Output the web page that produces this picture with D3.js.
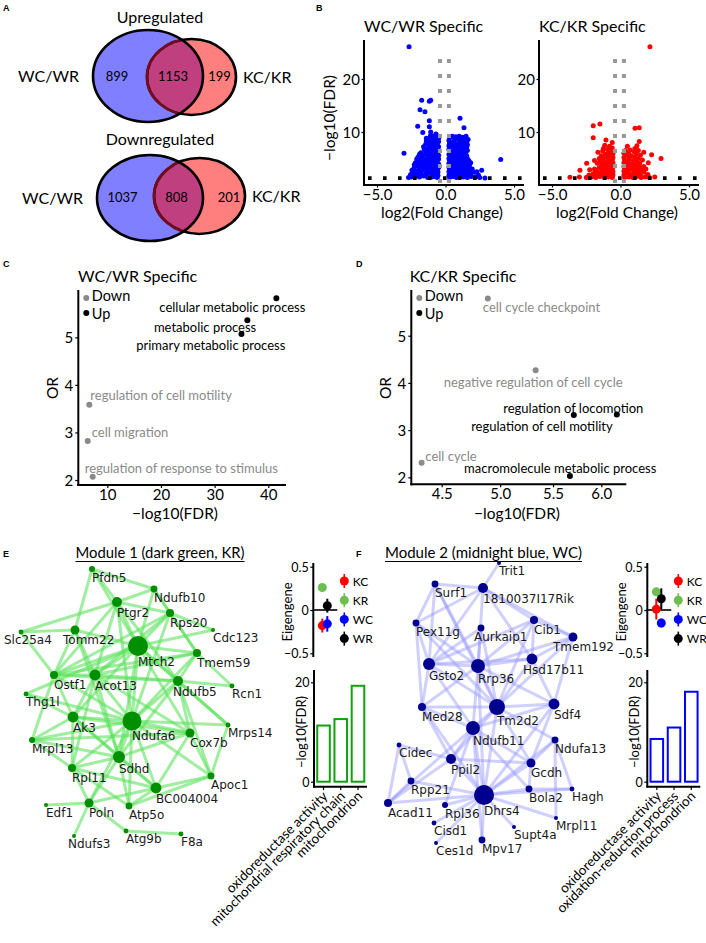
<!DOCTYPE html>
<html><head><meta charset="utf-8">
<script src="https://cdn.jsdelivr.net/npm/d3@7"></script>
<style>
html,body{margin:0;padding:0;background:#fff;}
svg{display:block;}
</style></head>
<body>
<svg id="fig" width="706" height="943" xmlns="http://www.w3.org/2000/svg"></svg>
<script>
// ======================= DATA =======================
// Panel A
const vennSetNames = ["WC/WR", "KC/KR"];
const vennTitles = ["Upregulated", "Downregulated"];
const upCounts = [899, 1153, 199];
const downCounts = [1037, 808, 201];

// Panel B  ([log2 fold change, -log10 FDR])
const volcanoTitles = ["WC/WR Specific", "KC/KR Specific"];
const volcanoXTicks = [-5, 0, 5];
const volcanoYTicks = [10, 20];
const fcCutoffs = [-0.4, 0.25];
const fdrCutoff = 1.3;
const wcSpecific = [
[-0.6,1.4],[-0.8,1.6],[-1.0,1.5],[-1.3,1.4],[-1.6,1.7],[-1.9,1.5],[-2.2,1.6],[-2.5,1.5],[-2.7,1.4],[-0.7,2.1],[-1.1,2.2],[-1.45,2.0],[-1.8,2.3],[-2.1,2.1],[-2.4,2.4],[-2.55,2.0],
[-0.6,2.8],[-0.9,3.0],[-1.25,2.7],[-1.6,3.1],[-1.95,2.9],[-2.3,3.2],[-0.75,3.6],[-1.1,3.8],[-1.4,3.5],[-1.75,3.9],[-2.05,3.6],[-2.28,3.8],
[-0.6,4.3],[-0.9,4.6],[-1.2,4.2],[-1.5,4.7],[-1.85,4.4],[-2.1,4.9],[-0.7,5.2],[-1.05,5.4],[-1.35,5.1],[-1.7,5.5],[-2.0,5.3],
[-0.6,6.0],[-0.85,6.3],[-1.15,6.0],[-1.45,6.4],[-1.8,6.1],[-0.7,6.9],[-1.0,7.1],[-1.3,6.8],[-1.6,7.2],
[-0.6,7.7],[-0.85,8.0],[-1.1,7.8],[-1.4,8.3],[-0.7,8.6],[-0.95,8.9],[-1.25,8.7],[-0.6,9.3],[-0.9,9.2],[-1.4,8.8],[-1.66,9.9],[-1.08,10.0],
[-0.55,1.8],[-0.95,1.9],[-1.35,1.7],[-1.75,1.9],[-2.05,1.8],[-2.35,1.9],
[-0.55,2.45],[-0.95,2.5],[-1.4,2.45],[-1.75,2.6],[-2.15,2.6],[-2.45,2.8],
[-0.5,3.3],[-0.8,3.35],[-1.05,3.3],[-1.3,3.15],[-1.55,3.6],[-1.9,3.3],[-2.2,4.2],
[-0.5,3.95],[-0.8,4.05],[-1.05,4.2],[-1.35,4.35],[-1.65,4.3],[-2.0,4.1],
[-0.5,4.9],[-0.8,5.0],[-1.1,4.85],[-1.4,4.75],[-1.65,4.95],[-1.9,5.0],
[-0.5,5.6],[-0.85,5.75],[-1.2,5.6],[-1.5,5.8],[-1.9,5.8],
[-0.5,6.5],[-0.9,6.65],[-1.2,6.45],[-1.55,6.75],
[-0.5,7.2],[-0.8,7.45],[-1.2,7.35],[-1.45,7.7],
[-0.5,8.2],[-0.75,8.2],[-1.0,8.35],[-1.2,8.2],
[-0.5,8.8],[-0.8,8.6],[-1.1,9.3],[-0.7,9.6],
[-2.66,26.1],[-1.74,16.0],[-1.18,15.8],[-1.08,16.0],[-1.86,14.2],[-1.5,13.8],[-1.18,12.1],[-2.03,11.1],[-1.18,11.0],[-3.03,6.0],
[0.3,1.4],[0.55,1.6],[0.8,1.4],[1.05,1.7],[1.3,1.5],[1.6,1.4],[1.9,1.6],[2.2,1.5],[2.5,1.4],[2.88,1.3],[0.4,2.2],[0.7,2.0],[0.95,2.3],[1.2,2.1],[1.5,2.3],[1.8,2.0],[2.1,2.4],[2.28,2.5],[2.64,2.8],
[0.3,2.9],[0.6,3.1],[0.85,2.8],[1.15,3.2],[1.4,2.9],[1.7,3.3],[1.95,3.0],[0.45,3.8],[0.75,3.6],[1.0,4.0],[1.3,3.7],[1.55,4.1],[1.84,4.2],
[0.3,4.6],[0.6,4.5],[0.9,4.8],[1.2,4.6],[1.45,5.0],[0.4,5.4],[0.7,5.6],[1.0,5.3],[1.3,5.7],[1.55,5.5],[0.3,6.2],[0.55,6.4],[0.85,6.1],[1.1,6.5],[1.4,6.3],
[0.4,7.0],[0.7,7.3],[0.95,7.0],[1.25,7.2],[1.55,7.1],[0.3,7.9],[0.55,8.1],[0.85,7.8],[1.1,8.2],[1.4,8.0],[0.3,8.9],[0.5,9.2],[0.75,9.1],[1.0,9.2],[1.25,9.0],[1.5,9.2],[1.65,8.6],
[0.25,1.8],[0.6,1.9],[0.95,1.8],[1.25,1.9],[1.55,1.8],[1.85,1.7],[2.4,1.9],
[0.25,2.5],[0.55,2.5],[0.85,2.6],[1.1,2.5],[1.35,2.6],[1.65,2.6],[1.95,2.5],
[0.25,3.4],[0.55,3.4],[0.9,3.3],[1.2,3.5],[1.5,3.6],[1.75,3.7],
[0.25,4.1],[0.55,4.1],[0.85,4.3],[1.15,4.2],[1.4,4.4],[1.7,4.6],
[0.25,5.0],[0.55,5.0],[0.8,5.1],[1.1,5.0],[1.3,5.2],[1.6,5.0],
[0.25,5.75],[0.55,5.9],[0.85,5.75],[1.15,6.0],[1.45,5.9],[1.6,6.5],
[0.25,6.7],[0.55,6.8],[0.8,6.6],[1.05,6.85],[1.3,6.7],[1.6,7.6],
[0.25,7.4],[0.5,7.6],[0.75,7.5],[1.0,7.6],[1.3,7.7],[1.55,8.1],
[0.25,8.4],[0.65,8.5],[0.95,8.6],[1.2,8.5],[1.45,8.6],
[1.06,12.6],[1.35,10.8],[4.03,4.8]
];
const kcSpecific = [
[-0.6,1.4],[-0.9,1.5],[-1.2,1.4],[-1.5,1.6],[-1.8,1.4],[-2.1,1.5],[-2.5,1.4],[-3.0,1.5],[-3.69,1.45],[-0.75,2.1],[-1.05,2.3],[-1.35,2.0],[-1.7,2.4],[-2.0,2.1],
[-0.6,2.9],[-0.95,3.1],[-1.25,2.8],[-1.55,3.3],[-1.9,3.0],[-2.96,2.8],[-2.25,2.9],[-0.7,3.8],[-1.0,4.0],[-1.35,3.7],[-1.7,4.1],[-2.47,4.1],
[-0.6,4.7],[-0.9,4.9],[-1.2,4.5],[-1.55,5.0],[-1.9,4.6],[-0.75,5.6],[-1.1,5.8],[-1.4,5.5],[-0.65,6.5],[-0.95,6.7],[-1.3,6.4],[-1.65,6.2],
[-0.8,7.3],[-1.15,7.5],[-1.06,8.5],[-1.99,8.9],[-1.5,11.5],[-1.99,11.2],[-0.6,8.0],
[-0.55,1.9],[-1.05,1.8],[-1.55,1.9],[-1.9,1.8],[-2.3,1.9],[-0.55,2.5],[-0.9,2.6],[-1.4,2.5],[-1.8,2.7],[-0.55,3.4],[-0.85,3.5],[-1.15,3.3],[-1.45,3.2],
[-0.55,4.2],[-0.85,4.3],[-1.2,4.05],[-1.5,4.35],[-0.55,5.2],[-1.0,5.3],[-1.3,5.1],[-0.55,5.9],[-0.9,6.0],[-1.25,6.9],[-0.6,7.0],
[0.3,1.4],[0.6,1.5],[0.9,1.4],[1.2,1.6],[1.5,1.4],[1.8,1.5],[2.1,1.4],[2.5,1.5],[0.4,2.2],[0.75,2.0],[1.05,2.3],[1.35,2.1],[1.7,2.4],[2.0,2.0],
[0.3,3.0],[0.6,2.9],[0.9,3.2],[1.2,2.9],[1.5,3.3],[1.85,3.0],[0.45,3.8],[0.8,4.0],[1.1,3.7],[1.4,4.1],[2.03,4.2],
[0.3,4.7],[0.65,4.9],[0.95,4.6],[1.3,5.0],[1.6,4.7],[2.96,5.0],[2.27,5.7],[0.45,5.7],[0.8,5.5],[1.15,5.9],[1.45,5.6],
[0.35,6.5],[0.7,6.6],[1.05,6.9],[1.37,8.2],[1.2,7.4],[0.5,7.3],[1.37,10.8],[1.06,10.7],[2.15,26.1],[1.7,6.2],
[0.25,1.9],[0.7,1.8],[1.1,1.9],[1.45,1.8],[1.95,1.7],[0.25,2.6],[0.55,2.5],[0.95,2.7],[1.35,2.6],[1.6,2.8],[0.25,3.5],[0.6,3.5],[0.95,3.8],[1.3,3.5],[1.7,3.5],
[0.25,4.2],[0.55,4.4],[1.2,4.4],[0.25,5.2],[0.6,5.3],[1.05,5.2],[0.25,6.0],[0.6,6.1],[1.0,6.3],[1.3,6.5]
];

// Panels C, D
const directions = ["Down", "Up"];
const goYTicks = [2, 3, 4, 5];
const goXTicksC = [10, 20, 30, 40];
const goXTicksD = [4.5, 5.0, 5.5, 6.0];
const wcTerms = ["cellular metabolic process","metabolic process","primary metabolic process","regulation of cell motility","cell migration","regulation of response to stimulus"];
const wcTermFDR = [41.5, 36.1, 35.0, 6.65, 6.35, 7.28];
const wcTermOR = [5.82, 5.36, 5.07, 3.58, 2.82, 2.07];
const wcTermDir = ["Up","Up","Up","Down","Down","Down"];
const kcTerms = ["cell cycle checkpoint","negative regulation of cell cycle","regulation of locomotion","regulation of cell motility","cell cycle","macromolecule metabolic process"];
const kcTermFDR = [4.89, 5.33, 6.17, 5.71, 4.34, 5.67];
const kcTermOR = [5.79, 4.27, 3.33, 3.32, 2.31, 2.03];
const kcTermDir = ["Down","Down","Up","Up","Down","Up"];

// Panels E, F  (network layout coordinates + intramodular connectivity)
const moduleTitles = ["Module 1 (dark green, KR)", "Module 2 (midnight blue, WC)"];
const m1Genes = ["Pfdn5","Ndufb10","Ptgr2","Rps20","Cdc123","Slc25a4","Tomm22","Mtch2","Tmem59","Ostf1","Acot13","Ndufb5","Rcn1","Thg1l","Ak3","Ndufa6","Mrps14","Cox7b","Mrpl13","Sdhd","Rpl11","Apoc1","BC004004","Edf1","Poln","Atp5o","Ndufs3","Atg9b","F8a"];
const m1LayoutX = [92,154,117,170,213,21,75,138,197,54,95,178,232,26,73,132,228,190,32,119,72,211,156,46,89,129,74,126,181];
const m1LayoutY = [9,29,42,53,70,72,70,86,93,115,115,121,126,134,157,161,165,173,180,197,208,216,228,245,243,246,276,271,274];
const m1Connectivity = [9,12,25,16,4,6,20,100,16,16,30,25,6,6,30,90,6,20,9,36,16,12,30,4,20,12,4,6,6];
const m1Edges = [
["Pfdn5","Ndufb10"],["Pfdn5","Ptgr2"],["Pfdn5","Tomm22"],["Pfdn5","Mtch2"],
["Ndufb10","Ptgr2"],["Ndufb10","Mtch2"],["Ndufb10","Rps20"],["Ndufb10","Tmem59"],
["Ptgr2","Slc25a4"],["Ptgr2","Rps20"],["Ptgr2","Mtch2"],["Ptgr2","Ostf1"],["Ptgr2","Acot13"],["Ptgr2","Ndufb5"],["Ptgr2","Ndufa6"],
["Slc25a4","Tomm22"],["Slc25a4","Ostf1"],
["Rps20","Cdc123"],["Rps20","Tmem59"],["Rps20","Ndufa6"],["Rps20","Ostf1"],["Rps20","Mtch2"],["Rps20","Acot13"],
["Tomm22","Mtch2"],["Tomm22","Ostf1"],["Tomm22","Acot13"],["Tomm22","Sdhd"],
["Mtch2","Ostf1"],["Mtch2","Acot13"],["Mtch2","Ndufa6"],["Mtch2","Ndufb5"],["Mtch2","Tmem59"],["Mtch2","Thg1l"],["Mtch2","Ak3"],["Mtch2","Cox7b"],["Mtch2","Sdhd"],["Mtch2","Cdc123"],["Mtch2","Mrps14"],
["Tmem59","Rcn1"],["Tmem59","Ndufb5"],["Tmem59","Ndufa6"],["Tmem59","Acot13"],["Tmem59","Ostf1"],
["Ostf1","Acot13"],["Ostf1","Ndufa6"],["Ostf1","Mrpl13"],["Ostf1","Ndufb5"],["Ostf1","Ak3"],
["Acot13","Ndufa6"],["Acot13","Ndufb5"],["Acot13","Ak3"],["Acot13","Sdhd"],["Acot13","Cox7b"],["Acot13","Rpl11"],
["Ndufb5","Ndufa6"],["Ndufb5","Cox7b"],["Ndufb5","Apoc1"],["Ndufb5","Mrps14"],["Ndufb5","Rcn1"],["Ndufb5","Sdhd"],
["Thg1l","Ak3"],["Thg1l","Ndufa6"],
["Ak3","Ndufa6"],["Ak3","Rpl11"],["Ak3","Sdhd"],["Ak3","BC004004"],["Ak3","Mrpl13"],["Ak3","Cox7b"],
["Ndufa6","Cox7b"],["Ndufa6","Mrps14"],["Ndufa6","Sdhd"],["Ndufa6","BC004004"],["Ndufa6","Rpl11"],["Ndufa6","Poln"],["Ndufa6","Atp5o"],["Ndufa6","Apoc1"],["Ndufa6","Mrpl13"],
["Cox7b","Apoc1"],["Cox7b","BC004004"],["Cox7b","Sdhd"],["Cox7b","Mrpl13"],
["Mrps14","Apoc1"],
["Mrpl13","Rpl11"],["Mrpl13","Sdhd"],
["Sdhd","Rpl11"],["Sdhd","BC004004"],["Sdhd","Poln"],["Sdhd","Atp5o"],
["Rpl11","Poln"],["Rpl11","BC004004"],["Rpl11","Atp5o"],
["Apoc1","BC004004"],["Apoc1","Atp5o"],
["BC004004","Poln"],["BC004004","Atp5o"],
["Poln","Edf1"],["Poln","Ndufs3"],["Poln","Atg9b"],
["Atg9b","F8a"]
];
const m2Genes = ["Trit1","Surf1","1810037I17Rik","Pex11g","Aurkaip1","Cib1","Tmem192","Gsto2","Rrp36","Hsd17b11","Med28","Tm2d2","Sdf4","Ndufb11","Ndufa13","Cidec","Ppil2","Gcdh","Rpp21","Bola2","Hagh","Dhrs4","Acad11","Rpl36","Mrpl11","Cisd1","Supt4a","Ces1d","Mpv17"];
const m2LayoutX = [146,82,130,63,128,181,220,76,125,179,69,144,201,120,202,46,98,178,58,176,219,131,35,92,203,81,161,83,129];
const m2LayoutY = [3,24,28,63,68,60,77,104,106,99,147,147,144,168,180,185,199,203,221,229,229,235,243,245,258,263,267,283,280];
const m2Connectivity = [4,12,25,12,12,16,20,36,49,30,16,64,30,49,12,6,25,20,12,12,6,100,16,9,4,6,4,4,12];
const m2Edges = [
["Trit1","1810037I17Rik"],
["Surf1","1810037I17Rik"],["Surf1","Pex11g"],["Surf1","Gsto2"],["Surf1","Rrp36"],["Surf1","Tm2d2"],
["1810037I17Rik","Cib1"],["1810037I17Rik","Tmem192"],["1810037I17Rik","Rrp36"],["1810037I17Rik","Pex11g"],["1810037I17Rik","Gsto2"],["1810037I17Rik","Hsd17b11"],
["Pex11g","Gsto2"],["Pex11g","Rrp36"],["Pex11g","Tm2d2"],["Pex11g","Med28"],
["Aurkaip1","Rrp36"],["Aurkaip1","Gsto2"],["Aurkaip1","Tm2d2"],
["Cib1","Tmem192"],["Cib1","Hsd17b11"],["Cib1","Rrp36"],["Cib1","Gsto2"],["Cib1","Tm2d2"],
["Tmem192","Hsd17b11"],["Tmem192","Sdf4"],["Tmem192","Rrp36"],["Tmem192","Tm2d2"],
["Gsto2","Rrp36"],["Gsto2","Tm2d2"],["Gsto2","Med28"],["Gsto2","Ndufb11"],["Gsto2","Hsd17b11"],
["Rrp36","Hsd17b11"],["Rrp36","Tm2d2"],["Rrp36","Ndufb11"],["Rrp36","Med28"],["Rrp36","Sdf4"],["Rrp36","Dhrs4"],
["Hsd17b11","Tm2d2"],["Hsd17b11","Sdf4"],
["Med28","Tm2d2"],["Med28","Ndufb11"],["Med28","Ppil2"],["Med28","Dhrs4"],
["Tm2d2","Sdf4"],["Tm2d2","Ndufb11"],["Tm2d2","Dhrs4"],["Tm2d2","Gcdh"],["Tm2d2","Ppil2"],["Tm2d2","Ndufa13"],
["Sdf4","Ndufb11"],["Sdf4","Gcdh"],["Sdf4","Dhrs4"],
["Ndufb11","Dhrs4"],["Ndufb11","Ppil2"],["Ndufb11","Acad11"],["Ndufb11","Gcdh"],["Ndufb11","Bola2"],
["Ndufa13","Dhrs4"],["Ndufa13","Gcdh"],
["Cidec","Acad11"],["Cidec","Ppil2"],["Cidec","Rpp21"],
["Ppil2","Dhrs4"],["Ppil2","Gcdh"],["Ppil2","Acad11"],
["Gcdh","Dhrs4"],["Gcdh","Bola2"],
["Rpp21","Dhrs4"],["Rpp21","Acad11"],
["Bola2","Dhrs4"],["Bola2","Hagh"],
["Hagh","Dhrs4"],["Hagh","Ndufa13"],
["Acad11","Dhrs4"],
["Rpl36","Dhrs4"],["Rpl36","Ndufb11"],
["Mrpl11","Dhrs4"],["Mrpl11","Ndufa13"],
["Cisd1","Dhrs4"],["Supt4a","Dhrs4"],["Ces1d","Dhrs4"],
["Mpv17","Dhrs4"],["Mpv17","Ndufb11"]
];
const eigenGroups = ["KC","KR","WC","WR"];
const eigenTicks = [-0.5, 0, 0.5];
const m1EigenMean = [-0.18, 0.26, -0.16, 0.05];
const m1EigenSE = [0.08, 0.02, 0.09, 0.08];
const m2EigenMean = [0.01, 0.21, -0.15, 0.13];
const m2EigenSE = [0.12, 0.04, 0.05, 0.12];
const barTicks = [0, 20];
const m1Terms = ["oxidoreductase activity","mitochondrial respiratory chain","mitochondrion"];
const m1TermFDR = [11.3, 12.6, 19.3];
const m2Terms = ["oxidoreductase activity","oxidation-reduction process","mitochondrion"];
const m2TermFDR = [8.6, 10.9, 18.1];

// ======================= DRAWING =======================
const FONT = "Lato, 'Open Sans', sans-serif";
const NETFONT = "'DejaVu Sans', Verdana, sans-serif";
const svg = d3.select("#fig");

function T(g, x, y, s, size, o = {}) {
  return g.append("text").attr("x", x).attr("y", y).text(s)
    .attr("font-size", size).attr("font-family", o.family || FONT)
    .attr("text-anchor", o.anchor || "start").attr("fill", o.fill || "#000")
    .attr("font-weight", o.weight || "normal")
    .attr("dominant-baseline", o.baseline || "auto");
}
function HL(g, x1, x2, y, w = 1.8, c = "#000") {
  g.append("line").attr("x1", x1).attr("x2", x2).attr("y1", y).attr("y2", y).attr("stroke", c).attr("stroke-width", w);
}
function VL(g, x, y1, y2, w = 1.8, c = "#000") {
  g.append("line").attr("x1", x).attr("x2", x).attr("y1", y1).attr("y2", y2).attr("stroke", c).attr("stroke-width", w);
}
function styleAxis(sel, size) {
  sel.select(".domain").remove();
  sel.selectAll(".tick line").attr("stroke", "#000").attr("stroke-width", 1.2);
  sel.selectAll(".tick text").attr("font-family", FONT).attr("font-size", size).attr("fill", "#000");
}

// panel letters
[["A",3,11],["B",316,11],["C",3,267],["D",356,267],["E",3,557],["F",356,557]].forEach(([l,x,y]) =>
  T(svg, x, y, l, 9, {family: "'Liberation Sans', Arial, sans-serif", weight: "bold"}));

// ---------- Panel A: Venn ----------
const defs = svg.append("defs");
const vennLayout = [
  {titleY: 23, sets: [{cx:148,cy:76,rx:55,ry:46},{cx:191.5,cy:77,rx:44.5,ry:38}], counts: upCounts},
  {titleY: 145, sets: [{cx:150,cy:198,rx:53,ry:43},{cx:199.5,cy:196,rx:45.5,ry:38}], counts: downCounts}
];
const vs = d3.scaleLinear().domain([0, 706]).range([0, 706]);
vennLayout.forEach((L, i) => {
  const g = svg.append("g");
  const [b, r] = L.sets;
  T(g, 160, L.titleY, vennTitles[i], 16, {anchor: "middle"});
  g.append("ellipse").attr("cx", vs(b.cx)).attr("cy", vs(b.cy)).attr("rx", b.rx).attr("ry", b.ry).attr("fill", "#0000ff").attr("fill-opacity", 0.5);
  g.append("ellipse").attr("cx", vs(r.cx)).attr("cy", vs(r.cy)).attr("rx", r.rx).attr("ry", r.ry).attr("fill", "#ff0000").attr("fill-opacity", 0.5);
  g.append("ellipse").attr("cx", vs(b.cx)).attr("cy", vs(b.cy)).attr("rx", b.rx).attr("ry", b.ry).attr("fill", "none").attr("stroke", "#000").attr("stroke-width", 2.6);
  g.append("ellipse").attr("cx", vs(r.cx)).attr("cy", vs(r.cy)).attr("rx", r.rx).attr("ry", r.ry).attr("fill", "none").attr("stroke", "#000").attr("stroke-width", 2.6);
  const cid = "vclip" + i;
  defs.append("clipPath").attr("id", cid).append("ellipse").attr("cx", vs(b.cx)).attr("cy", vs(b.cy)).attr("rx", b.rx - 1.3).attr("ry", b.ry - 1.3);
  g.append("ellipse").attr("clip-path", `url(#${cid})`).attr("cx", vs(r.cx)).attr("cy", vs(r.cy)).attr("rx", r.rx).attr("ry", r.ry).attr("fill", "none").attr("stroke", "#7a0a1e").attr("stroke-width", 2.6);
  const bl = b.cx - b.rx, br = b.cx + b.rx, rl = r.cx - r.rx, rr = r.cx + r.rx;
  const ny = (b.cy + r.cy) / 2;
  const xs = [(bl + rl) / 2 - 3, (rl + br) / 2 - 2, (br + rr) / 2 + (i ? 5 : 0)];
  L.counts.forEach((c, k) => T(g, vs(xs[k]), vs(ny) + 4.5, c, 13, {anchor: "middle"}));
  T(g, bl - 14, b.cy + 5.5, vennSetNames[0], 16, {anchor: "end"});
  T(g, rr + 7, r.cy + 5.5, vennSetNames[1], 16);
});

// ---------- Panel B: volcano ----------
function volcano(data, color, off, title) {
  const g = svg.append("g");
  const x = d3.scaleLinear().domain([-5, 5]).range([377 + off, 514 + off]);
  const y = d3.scaleLinear().domain([0, 20]).range([185, 79]);
  const axL = 364 + off, axR = 524 + off, axT = 40, axB = 185;
  T(g, axL, 32, title, 16);
  g.selectAll("circle").data(data).join("circle")
    .attr("cx", d => x(d[0])).attr("cy", d => y(d[1])).attr("r", 2.5).attr("fill", color);
  fcCutoffs.forEach(c => g.append("line").attr("x1", x(c)).attr("x2", x(c)).attr("y1", axB - 2).attr("y2", axT + 8)
    .attr("stroke", "#999").attr("stroke-width", 4).attr("stroke-dasharray", "4,11"));
  g.append("line").attr("x1", axL + 4).attr("x2", axR).attr("y1", y(fdrCutoff)).attr("y2", y(fdrCutoff))
    .attr("stroke", "#000").attr("stroke-width", 3.6).attr("stroke-dasharray", "3.6,11.4");
  VL(g, axL, axT, axB + 1, 2);
  HL(g, axL - 1, axR, axB, 2);
  const ax = g.append("g").attr("transform", `translate(0,${axB})`)
    .call(d3.axisBottom(x).tickValues(volcanoXTicks).tickFormat(d3.format(".1f")).tickSize(2.5).tickPadding(2));
  styleAxis(ax, 15);
  const ay = g.append("g").attr("transform", `translate(${axL},0)`)
    .call(d3.axisLeft(y).tickValues(volcanoYTicks).tickSize(2.5).tickPadding(1.5));
  styleAxis(ay, 15);
  ay.selectAll(".tick text").attr("dy", "0.36em");
  T(g, (axL + axR) / 2 - 2, 218, "log2(Fold Change)", 15.5, {anchor: "middle"});
  if (off === 0) {
    T(g, 0, 0, "\u2212log10(FDR)", 15.5, {anchor: "middle"}).attr("transform", `translate(335,118) rotate(-90)`);
  }
}
volcano(wcSpecific, "#0000ff", 0, volcanoTitles[0]);
volcano(kcSpecific, "#ff0000", 175, volcanoTitles[1]);

// ---------- Panels C, D ----------
function goPlot(o) {
  const g = svg.append("g");
  T(g, o.titleX, 282, o.title, 16);
  VL(g, o.axX, 290, o.axY + 1, 2);
  HL(g, o.axX - 1, o.axR, o.axY, 2);
  const ax = g.append("g").attr("transform", `translate(0,${o.axY})`)
    .call(d3.axisBottom(o.x).tickValues(o.xticks).tickFormat(o.fmt).tickSize(3).tickPadding(1.5));
  styleAxis(ax, 15);
  const ay = g.append("g").attr("transform", `translate(${o.axX},0)`)
    .call(d3.axisLeft(o.y).tickValues(goYTicks).tickFormat(d3.format("d")).tickSize(3).tickPadding(2));
  styleAxis(ay, 15);
  ay.selectAll(".tick text").attr("dy", "0.36em");
  T(g, o.xlabX, 519, "\u2212log10(FDR)", 15.5, {anchor: "middle"});
  T(g, 0, 0, "OR", 15.5, {anchor: "middle"}).attr("transform", `translate(${o.axX - 20},388) rotate(-90)`);
  const col = d => d === "Up" ? "#000" : "#8a8a8a";
  // legend
  directions.forEach((d, i) => {
    g.append("circle").attr("cx", o.axX + 8).attr("cy", 298 + i * 15).attr("r", 3).attr("fill", col(d));
    T(g, o.axX + 13.5, i ? 313.5 : 295.8, d, 14.5, {baseline: "central"});
  });
  o.terms.forEach((t, i) => {
    const px = o.x(o.fdr[i]), py = o.y(o.or[i]);
    g.append("circle").attr("cx", px).attr("cy", py).attr("r", 3).attr("fill", col(o.dir[i]));
    const n = o.nudge[i];
    T(g, px + n[1], py + n[2], t, 13, {anchor: n[0], fill: col(o.dir[i]), baseline: "central"});
  });
}
goPlot({
  title: volcanoTitles[0], titleX: 78, axX: 78.3, axY: 485, axR: 286, xlabX: 175,
  x: d3.scaleLinear().domain([10, 40]).range([107.3, 268.3]),
  y: d3.scaleLinear().domain([2, 5]).range([480, 337.3]),
  xticks: goXTicksC, fmt: d3.format("d"),
  terms: wcTerms, fdr: wcTermFDR, or: wcTermOR, dir: wcTermDir,
  nudge: [["middle",-44,8.4],["middle",-42.3,6.7],["middle",-30.7,11],["start",1,-10],["start",4,-8.7],["start",-8,-8.4]]
});
goPlot({
  title: volcanoTitles[1], titleX: 409.7, axX: 411.3, axY: 484.3, axR: 626.3, xlabX: 517,
  x: d3.scaleLog().domain([4.5, 6.0]).range([441.7, 601.3]),
  y: d3.scaleLinear().domain([2, 5]).range([477.3, 335.7]),
  xticks: goXTicksD, fmt: d3.format(".1f"),
  terms: kcTerms, fdr: kcTermFDR, or: kcTermOR, dir: kcTermDir,
  nudge: [["start",-5,8.4],["middle",-2.4,12.3],["middle",-43.5,-7],["middle",-31.9,11],["start",3.7,-6.7],["middle",-9.7,-7.7]]
});

// ---------- Panels E, F: networks ----------
function network(genes, lx, ly, conn, edges, ox, oy, nodeCol, edgeCol, edgeOp, shifts) {
  const g = svg.append("g");
  const nx = d3.scaleLinear().domain([0, 250]).range([ox, ox + 250]);
  const nyS = d3.scaleLinear().domain([0, 300]).range([oy, oy + 300]);
  const rS = d3.scaleSqrt().domain([0, 100]).range([0, 10]);
  const nodes = genes.map((n, i) => ({name: n, x: nx(lx[i]), y: nyS(ly[i]), r: rS(conn[i])}));
  const byName = new Map(nodes.map(n => [n.name, n]));
  g.append("g").selectAll("line").data(edges).join("line")
    .attr("x1", d => byName.get(d[0]).x).attr("y1", d => byName.get(d[0]).y)
    .attr("x2", d => byName.get(d[1]).x).attr("y2", d => byName.get(d[1]).y)
    .attr("stroke", edgeCol).attr("stroke-opacity", edgeOp).attr("stroke-width", 3);
  g.append("g").selectAll("circle").data(nodes).join("circle")
    .attr("cx", d => d.x).attr("cy", d => d.y).attr("r", d => d.r).attr("fill", nodeCol);
  g.append("g").selectAll("text").data(nodes).join("text")
    .attr("x", d => d.x + (shifts[d.name] || 0)).attr("y", d => d.y + d.r + 6)
    .attr("dominant-baseline", "central")
    .attr("font-family", NETFONT).attr("font-size", 12).attr("fill", "#1a1a1a")
    .text(d => d.name);
}
network(m1Genes, m1LayoutX, m1LayoutY, m1Connectivity, m1Edges, 0, 560, "#008f00", "rgb(90,225,90)", 0.58,
  {Tomm22: -12, Slc25a4: -17, Ndufs3: -6, Ndufb5: -5});
network(m2Genes, m2LayoutX, m2LayoutY, m2Connectivity, m2Edges, 353, 560, "#00008f", "rgb(150,150,255)", 0.45,
  {Aurkaip1: -7, Tmem192: -20, Hsd17b11: -9});

// module titles
[[160, 169, moduleTitles[0]], [483.5, 197, moduleTitles[1]]].forEach(([cx, w, t]) => {
  T(svg, cx, 558, t, 16, {anchor: "middle"}).attr("textLength", w).attr("lengthAdjust", "spacingAndGlyphs");
  HL(svg, cx - w / 2, cx + w / 2, 561.5, 1.2);
});

// ---------- eigengene plots ----------
const groupCol = {KC: "#ff0000", KR: "#6cbf4f", WC: "#0000ff", WR: "#000000"};
function eigen(ox, means, ses) {
  const g = svg.append("g");
  const y = d3.scaleLinear().domain([-0.5, 0.5]).range([653.3, 566.7]);
  const x = d3.scalePoint().domain(["K", "W"]).range([ox + 9, ox + 14]);
  VL(g, ox, 563, 657, 2);
  const ay = g.append("g").attr("transform", `translate(${ox},0)`)
    .call(d3.axisLeft(y).tickValues(eigenTicks).tickFormat(d3.format("")).tickSize(3).tickPadding(1.5));
  styleAxis(ay, 12.5);
  ay.selectAll(".tick text").attr("dy", "0.36em");
  HL(g, ox, ox + 24, y(0), 1.6);
  T(g, 0, 0, "Eigengene", 13, {anchor: "middle"}).attr("transform", `translate(${ox - 21},612) rotate(-90)`);
  eigenGroups.forEach((gr, i) => {
    const cx = x(gr[0]);
    VL(g, cx, y(means[i] - ses[i]), y(means[i] + ses[i]), 2, groupCol[gr]);
    g.append("circle").attr("cx", cx).attr("cy", y(means[i])).attr("r", 4.5).attr("fill", groupCol[gr]);
  });
  // legend
  const lx = ox + 31;
  eigenGroups.forEach((gr, i) => {
    const ly = 581 + i * 19.2;
    VL(g, lx, ly - 7, ly + 7, 1.6, groupCol[gr]);
    g.append("circle").attr("cx", lx).attr("cy", ly).attr("r", 4.5).attr("fill", groupCol[gr]);
    T(g, lx + 8.5, ly, gr, 12, {baseline: "central"});
  });
}
eigen(313.3, m1EigenMean, m1EigenSE);
eigen(647.3, m2EigenMean, m2EigenSE);

// ---------- enrichment bars ----------
function bars(ox, terms, vals, col) {
  const g = svg.append("g");
  const y = d3.scaleLinear().domain([0, 20]).range([781.7, 682.3]);
  const x = d3.scaleBand().domain(terms).range([ox + 1.5, ox + 52]).paddingInner(0.27).paddingOuter(0.1);
  g.selectAll("rect").data(terms).join("rect")
    .attr("x", d => x(d)).attr("width", x.bandwidth())
    .attr("y", (d, i) => y(vals[i])).attr("height", (d, i) => y(0) - y(vals[i]))
    .attr("fill", "#fff").attr("stroke", col).attr("stroke-width", 2);
  VL(g, ox, 670, 787.5, 2);
  HL(g, ox - 1, ox + 53, 786.7, 2);
  const ay = g.append("g").attr("transform", `translate(${ox},0)`)
    .call(d3.axisLeft(y).tickValues(barTicks).tickSize(3).tickPadding(1.5));
  styleAxis(ay, 12.5);
  ay.selectAll(".tick text").attr("dy", "0.36em");
  terms.forEach(t => {
    const cx = x(t) + x.bandwidth() / 2;
    VL(g, cx, 786.7, 790, 1.2);
    T(g, 0, 0, t, 13.5, {anchor: "end"}).attr("transform", `translate(${cx + 5},${797}) rotate(-45)`);
  });
  T(g, 0, 0, "\u2212log10(FDR)", 13, {anchor: "middle"}).attr("transform", `translate(${ox - 8},732) rotate(-90)`);
}
bars(314, m1Terms, m1TermFDR, "#12a012");
bars(647.3, m2Terms, m2TermFDR, "#0000ff");
</script>
</body></html>
